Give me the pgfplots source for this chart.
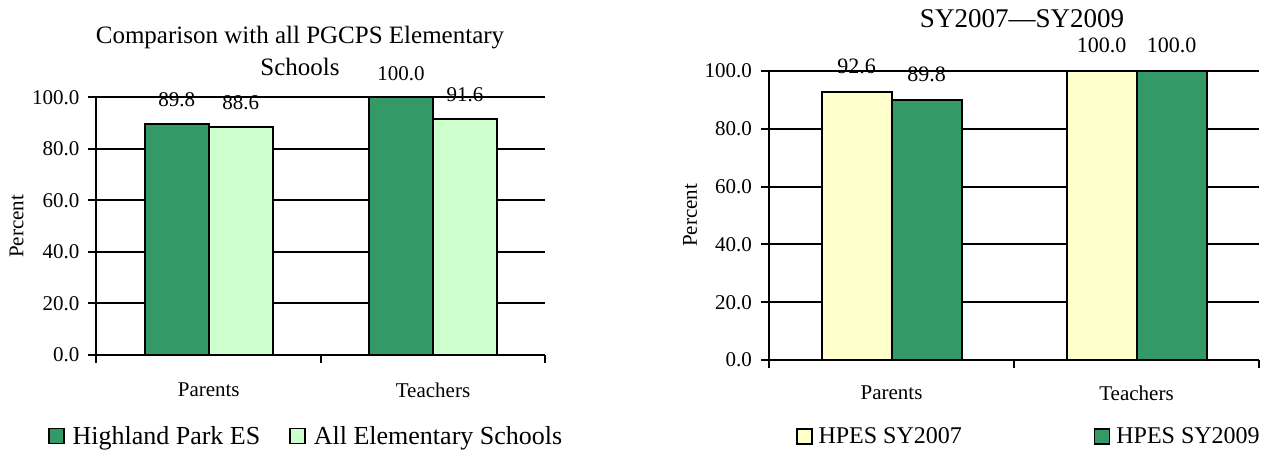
\documentclass[border=0pt]{standalone}
\usepackage{fontspec}
\setmainfont{Liberation Serif}
\usepackage{pgfplots}
\pgfplotsset{compat=1.18}

\definecolor{seagreen}{RGB}{51,153,102}
\definecolor{palegreen}{RGB}{204,255,204}
\definecolor{paleyellow}{RGB}{255,255,204}

\pgfplotsset{
  excelbars/.style={
    scale only axis,
    ymin=0, ymax=100, xmin=-0.5, xmax=1.5,
    enlargelimits=false,
    clip=false,
    axis x line*=bottom, axis y line*=left,
    axis line style={black, line width=2pt},
    ytick={0,20,...,100},
    scaled y ticks=false,
    xtick={-0.5,0.5,1.5},
    tick align=outside,
    major tick length=8pt,
    tick style={black, line width=2pt},
    ymajorgrids,
    grid style={black, line width=2pt},
    yticklabel={\pgfmathprintnumber[fixed,fixed zerofill,precision=1,assume math mode=true]{\tick}},
    yticklabel style={font=\fontsize{21}{21}\selectfont, anchor=east, inner sep=0pt, xshift=-9pt},
    ylabel={Percent},
    ylabel style={font=\fontsize{21}{21}\selectfont, anchor=center, inner sep=0pt},
    ybar=0pt,
    point meta=y,
    nodes near coords={\pgfmathprintnumber[fixed,fixed zerofill,precision=1,assume math mode=true]{\pgfplotspointmeta}},
    every axis plot/.append style={draw=black, line width=2pt},
    legend style={draw=none, fill=none, inner sep=0pt, outer sep=0pt,
      anchor=west, legend columns=2, nodes={inner sep=0pt}},
    legend image code/.code={\draw[#1, draw=black, line width=1.5pt] (0pt,-7.5pt) rectangle (15pt,7.5pt);},
  }
}

\begin{document}
\begin{tikzpicture}
\useasboundingbox (0,0) rectangle (1268pt,452pt);

% left chart
\node[font=\fontsize{25}{30}\selectfont, anchor=base] at (300pt,408.7pt) {Comparison with all PGCPS Elementary};
\node[font=\fontsize{25}{30}\selectfont, anchor=base] at (300pt,376.5pt) {Schools};
\begin{axis}[
    excelbars,
    at={(96.5pt,97pt)}, anchor=south west,
    width=448.5pt, height=257.5pt,
    bar width=64pt,
    xticklabels={Parents,Teachers,{}},
    xticklabel style={font=\fontsize{21}{21}\selectfont, anchor=center, inner sep=0pt,
      xshift=112.25pt, yshift=-27pt},
    ylabel style={at={(axis description cs:-0.178,0.5)}},
    nodes near coords style={font=\fontsize{21}{21}\selectfont, anchor=center, inner sep=0pt, yshift=24pt},
    legend style={at={(axis description cs:-0.108,-0.3146)}, font=\fontsize{26}{26}\selectfont,
      /tikz/every odd column/.append style={column sep=8pt},
      /tikz/every even column/.append style={column sep=29pt}},
  ]
  \addplot[fill=seagreen] coordinates {(0,89.8) (1,100.0)};
  \addlegendentry{Highland Park ES}
  \addplot[fill=palegreen] coordinates {(0,88.6) (1,91.6)};
  \addlegendentry{All Elementary Schools}
\end{axis}

% right chart
\node[font=\fontsize{27}{30}\selectfont, anchor=base] at (1022pt,424pt) {SY2007---SY2009};
\begin{axis}[
    excelbars,
    at={(769pt,92pt)}, anchor=south west,
    width=490pt, height=289pt,
    bar width=70pt,
    xticklabels={Parents,Teachers,{}},
    xticklabel style={font=\fontsize{21}{21}\selectfont, anchor=center, inner sep=0pt,
      xshift=122.5pt, yshift=-25pt},
    ylabel style={at={(axis description cs:-0.161,0.5)}},
    nodes near coords style={font=\fontsize{22}{22}\selectfont, anchor=center, inner sep=0pt, yshift=26pt},
    legend style={at={(axis description cs:0.0551,-0.2647)}, font=\fontsize{24}{24}\selectfont,
      /tikz/every odd column/.append style={column sep=6pt},
      /tikz/every even column/.append style={column sep=132pt}},
  ]
  \addplot[fill=paleyellow] coordinates {(0,92.6) (1,100.0)};
  \addlegendentry{HPES SY2007}
  \addplot[fill=seagreen] coordinates {(0,89.8) (1,100.0)};
  \addlegendentry{HPES SY2009}
\end{axis}
\end{tikzpicture}
\end{document}
